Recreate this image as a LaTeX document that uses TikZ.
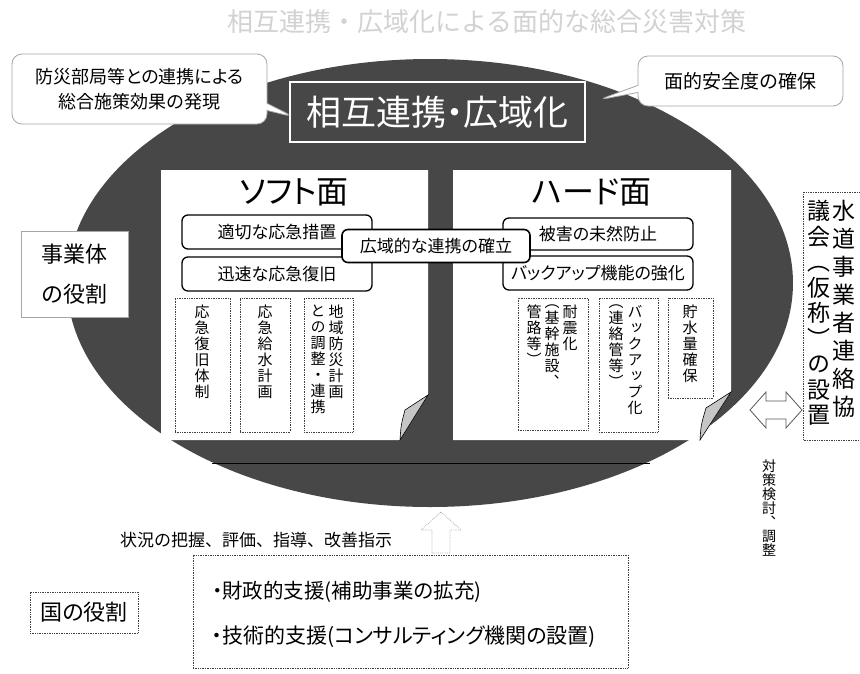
\documentclass[tikz,border=0pt]{standalone}
\usepackage{fontspec}
\setmainfont{Noto Sans CJK JP}[RawFeature=+palt]
\newfontfamily\plainfont{Noto Sans CJK JP}
\newfontfamily\vfont{Noto Sans CJK JP}[RawFeature=+vert]
\usetikzlibrary{shapes.callouts,shapes.arrows}
\definecolor{halftone}{gray}{0.28}
\makeatletter
\newcommand\tatecol[2]{\vbox{\baselineskip=#1\lineskiplimit=-100pt\lineskip=0pt\tate@a#2\@nil}}
\def\tate@a#1{\ifx#1\@nil\else\hbox to 1em{\hss#1\hss}\expandafter\tate@a\fi}
\makeatother
\tikzset{
  fs/.style={font=\fontsize{#1}{#1}\selectfont},
  vs/.style={font=\vfont\fontsize{#1}{#1}\selectfont, inner sep=0pt, anchor=north},
  callbox/.style={rectangle callout, draw=gray!70, line width=0.8pt, fill=white, rounded corners=10pt, inner sep=0pt},
  rbox/.style={draw=black, line width=1.3pt, rounded corners=6pt, fill=white, inner sep=0pt},
  dbox/.style={draw=black!75, densely dotted, line width=0.7pt, fill=white, inner sep=0pt},
  panel/.style={fill=white},
  fold/.style={fill=gray!45, draw=black, line width=0.6pt},
  blockarrow/.style={fill=white, draw=black!65, line width=0.8pt, line join=miter},
}
\begin{document}
\begin{tikzpicture}[x=1pt,y=-1pt]
\useasboundingbox[fill=white] (0,0) rectangle (860,673);
% title
\node[font=\plainfont\fontsize{26}{26}\selectfont, text=gray!35] (title) at (487,22) {相互連携・広域化による面的な総合災害対策};
% big ellipse
\fill[halftone] (430,283) ellipse [x radius=363pt, y radius=224pt];
\draw[black, line width=1pt] (208,463) -- (650,463);
\draw[white, line width=1.5pt] (175,447) .. controls (180,460) and (195,464) .. (212,463);
\draw[white, line width=1.5pt] (690,447) .. controls (695,460) and (710,464) .. (727,461);
% callouts
\node[callbox, callout absolute pointer={(294,117)}, minimum width=255pt, minimum height=70pt,
      align=center, font=\fontsize{18}{25}\selectfont] (c1) at (139.5,89) {防災部局等との連携による\\総合施策効果の発現};
\node[callbox, callout absolute pointer={(598,100)}, minimum width=205pt, minimum height=50pt,
      fs=19] (c2) at (740.5,81) {面的安全度の確保};
% central title box
\node[draw=white, line width=2pt, fill=halftone, text=white, minimum width=295pt, minimum height=60pt, fs=35] (tb) at (437.5,112) {相互連携・広域化};
% panels
\fill[panel] (161,170) -- (428,170) -- (428,395) -- (400,440) -- (161,440) -- cycle;
\filldraw[fold] (400,440) .. controls (401,425) .. (405,410) -- (428,395) -- cycle;
\fill[panel] (453,170) -- (731,170) -- (731,392) -- (700,440) -- (453,440) -- cycle;
\filldraw[fold] (700,440) .. controls (701,425) .. (706,408) -- (731,392) -- cycle;
\node[fs=32] (softt) at (294,192) {ソフト面};
\node[fs=32] (hardt) at (592,192) {ハード面};
% rounded boxes
\node[rbox, minimum width=190pt, minimum height=34pt, fs=17] (r1) at (277,232) {適切な応急措置};
\node[rbox, minimum width=190pt, minimum height=34pt, fs=17] (r2) at (277,274) {迅速な応急復旧};
\node[rbox, minimum width=190pt, minimum height=32pt, fs=17] (h1) at (598,234) {被害の未然防止};
\node[rbox, minimum width=190pt, minimum height=34pt, fs=17] (h2) at (598,273) {バックアップ機能の強化};
\node[rbox, line width=1.6pt, minimum width=188pt, minimum height=33pt, fs=17] (cen) at (436,246) {広域的な連携の確立};
% soft dotted boxes
\node[dbox, minimum width=55pt, minimum height=134pt] (sb1) at (202.5,365) {};
\node[dbox, minimum width=50pt, minimum height=134pt] (sb2) at (265,365) {};
\node[dbox, minimum width=49pt, minimum height=134pt] (sb3) at (328.5,365) {};
\node[vs=15] (t1) at (202,305) {\tatecol{16pt}{応急復旧体制}};
\node[vs=15] (t2) at (265,305) {\tatecol{16pt}{応急給水計画}};
\node[vs=15] (t3a) at (336,305) {\tatecol{16pt}{地域防災計画}};
\node[vs=15] (t3b) at (318,305) {\tatecol{16pt}{との調整・連携}};
% hard dotted boxes
\node[dbox, minimum width=70pt, minimum height=132pt] (hb1) at (553,364) {};
\node[dbox, minimum width=59pt, minimum height=134pt] (hb2) at (628.5,365) {};
\node[dbox, minimum width=45pt, minimum height=100pt] (hb3) at (690.5,348) {};
\node[vs=15] (u1a) at (570,305) {\tatecol{16pt}{耐震化}};
\node[vs=15] (u1b) at (552,305) {\tatecol{16pt}{（基幹施設、}};
\node[vs=15] (u1c) at (534,305) {\tatecol{16pt}{管路等）}};
\node[vs=15] (u2a) at (635,305) {\tatecol{16pt}{バックアップ化}};
\node[vs=15] (u2b) at (616,305) {\tatecol{16pt}{（連絡管等）}};
\node[vs=15] (u3) at (690,305) {\tatecol{16pt}{貯水量確保}};
% left role box
\node[draw=gray!70, line width=0.7pt, fill=white, minimum width=107pt, minimum height=86pt,
      align=center, font=\fontsize{22}{40}\selectfont] (jb) at (74.5,274) {事業体\\の役割};
% right council box
\node[dbox, minimum width=57pt, minimum height=248pt] (rb) at (832,316) {};
\node[vs=23] (rb1) at (844,200) {\tatecol{28pt}{水道事業者連絡協}};
\node[vs=23] (rb2) at (819,200) {\tatecol{25.5pt}{議会（仮称）の設置}};
\filldraw[blockarrow] (750,410) -- (766,392) -- (766,401) -- (786,401) -- (786,392) -- (802,410)
   -- (786,428) -- (786,419) -- (766,419) -- (766,428) -- cycle;
\node[vs=14] (tk) at (769,460) {\tatecol{14pt}{対策検討、調整}};
% national role
\filldraw[blockarrow, draw=gray!60, densely dotted] (441,512) -- (461,530) -- (450,530) -- (450,553)
   -- (432,553) -- (432,530) -- (421,530) -- cycle;
\node[font=\plainfont\fontsize{17}{17}\selectfont, anchor=west, inner sep=0pt] (st) at (120,540) {状況の把握、評価、指導、改善指示};
\node[dbox, minimum width=435pt, minimum height=113pt] (bb) at (410.5,611.5) {};
\node[fs=20.5, anchor=west, inner sep=0pt] (b1) at (212,592) {・財政的支援(補助事業の拡充)};
\node[fs=21, anchor=west, inner sep=0pt] (b2) at (212,637) {・技術的支援(コンサルティング機関の設置)};
\node[dbox, minimum width=108pt, minimum height=41pt, fs=22] (kb) at (84,612.5) {国の役割};
\end{tikzpicture}
\end{document}
